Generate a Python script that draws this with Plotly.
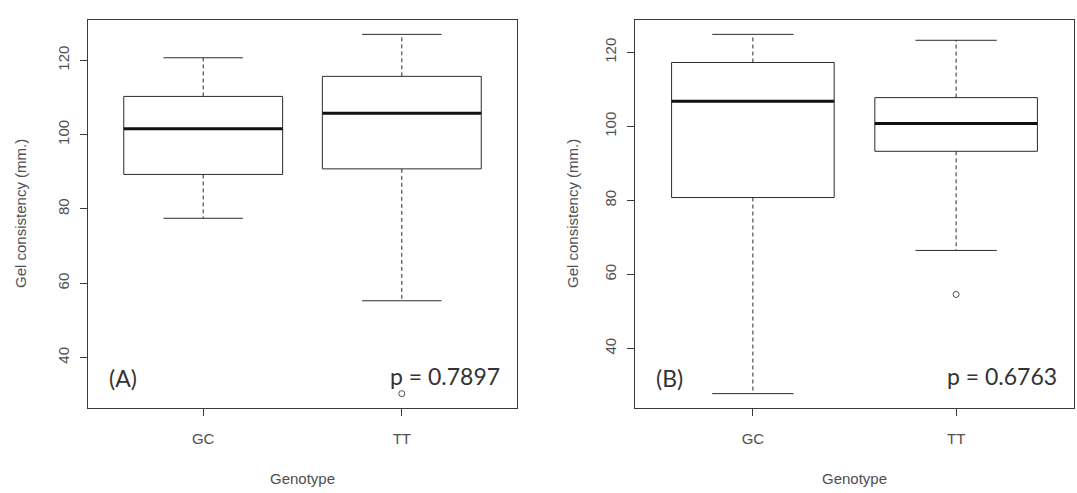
import plotly.graph_objects as go

# Genotype groups on the x axis
genotypes = ["GC", "TT"]

# Panel A: five-number summaries of gel consistency (mm.)
a_lower = [77.5, 55.3]
a_q1 = [89.3, 90.8]
a_median = [101.6, 105.8]
a_q3 = [110.3, 115.7]
a_upper = [120.7, 127.0]
a_outliers = [[], [30.3]]

# Panel B: five-number summaries of gel consistency (mm.)
b_lower = [27.8, 66.5]
b_q1 = [80.8, 93.3]
b_median = [106.8, 100.8]
b_q3 = [117.3, 107.8]
b_upper = [124.9, 123.3]
b_outliers = [[], [54.6]]

y_ticks = [40, 60, 80, 100, 120]
panel_labels = ["(A)", "(B)"]
p_values = ["p = 0.7897", "p = 0.6763"]

INK = "#2b2b2b"
GREY = "#505050"
BOX_HALF = 0.4      # half of boxwex 0.8
CAP_HALF = 0.2      # staplewex 0.5 of the box

panels = [
    dict(lo=a_lower, q1=a_q1, med=a_median, q3=a_q3, hi=a_upper, out=a_outliers),
    dict(lo=b_lower, q1=b_q1, med=b_median, q3=b_q3, hi=b_upper, out=b_outliers),
]

fig = go.Figure()

for p, d in enumerate(panels):
    xa = "x" if p == 0 else "x2"
    ya = "y" if p == 0 else "y2"
    for i, g in enumerate(genotypes):
        c = i + 1
        # box outline
        fig.add_trace(go.Scatter(
            x=[c - BOX_HALF, c + BOX_HALF, c + BOX_HALF, c - BOX_HALF, c - BOX_HALF],
            y=[d["q1"][i], d["q1"][i], d["q3"][i], d["q3"][i], d["q1"][i]],
            mode="lines", line=dict(color=INK, width=1),
            xaxis=xa, yaxis=ya, showlegend=False, hoverinfo="skip"))
        # median bar
        fig.add_trace(go.Scatter(
            x=[c - BOX_HALF, c + BOX_HALF], y=[d["med"][i], d["med"][i]],
            mode="lines", line=dict(color="#111111", width=3),
            xaxis=xa, yaxis=ya, showlegend=False, hoverinfo="skip"))
        # dashed whiskers
        for a, b in ((d["q3"][i], d["hi"][i]), (d["q1"][i], d["lo"][i])):
            fig.add_trace(go.Scatter(
                x=[c, c], y=[a, b], mode="lines",
                line=dict(color=INK, width=1, dash="4px,3px"),
                xaxis=xa, yaxis=ya, showlegend=False, hoverinfo="skip"))
        # staples
        for v in (d["hi"][i], d["lo"][i]):
            fig.add_trace(go.Scatter(
                x=[c - CAP_HALF, c + CAP_HALF], y=[v, v], mode="lines",
                line=dict(color=INK, width=1),
                xaxis=xa, yaxis=ya, showlegend=False, hoverinfo="skip"))
        # outliers
        if d["out"][i]:
            fig.add_trace(go.Scatter(
                x=[c] * len(d["out"][i]), y=d["out"][i], mode="markers",
                marker=dict(symbol="circle-open", size=6, color=GREY,
                            line=dict(width=1, color=GREY)),
                xaxis=xa, yaxis=ya, showlegend=False, hoverinfo="skip"))


def padded(vals):
    lo, hi = min(vals), max(vals)
    ext = 0.04 * (hi - lo)
    return [lo - ext, hi + ext]


W, H = 1077, 493
y_dom = [1 - 408 / H, 1 - 20 / H]
x_doms = [[88 / W, 517 / W], [635 / W, 1074 / W]]

axis_font = dict(family="Liberation Sans, Arial, sans-serif", size=15, color=GREY)
common_x = dict(
    range=[0.42, 2.58], tickmode="array", tickvals=[1, 2], ticktext=genotypes,
    showline=True, mirror=True, linecolor="#3a3a3a", linewidth=1,
    ticks="outside", ticklen=7, tickcolor="#3a3a3a", showgrid=False,
    zeroline=False, tickfont=axis_font, ticklabelstandoff=10)
common_y = dict(
    tickmode="array", tickvals=y_ticks, tickangle=-90,
    showline=True, mirror=True, linecolor="#3a3a3a", linewidth=1,
    ticks="outside", ticklen=7, tickcolor="#3a3a3a", showgrid=False,
    zeroline=False, tickfont=axis_font, ticklabelstandoff=5, domain=y_dom)

rng_a = padded(a_lower + a_upper + [v for o in a_outliers for v in o])
rng_b = padded(b_lower + b_upper + [v for o in b_outliers for v in o])

fig.update_layout(
    width=W, height=H,
    margin=dict(l=0, r=0, t=0, b=0),
    paper_bgcolor="white", plot_bgcolor="white",
    xaxis=dict(common_x, domain=x_doms[0], anchor="y"),
    yaxis=dict(common_y, range=rng_a, anchor="x"),
    xaxis2=dict(common_x, domain=x_doms[1], anchor="y2"),
    yaxis2=dict(common_y, range=rng_b, anchor="x2"),
)

annots = []
label_font = dict(family="Liberation Sans, Arial, sans-serif", size=15, color=GREY)
stat_font = dict(family="Lato, Open Sans, sans-serif", size=23, color="#333333")
for p in range(2):
    x0, x1 = x_doms[p]
    # axis titles
    annots.append(dict(text="Genotype", x=(x0 + x1) / 2, y=1 - 478 / H,
                       xref="paper", yref="paper", showarrow=False,
                       font=label_font, xanchor="center", yanchor="middle"))
    annots.append(dict(text="Gel consistency (mm.)", x=x0 - (67 if p == 0 else 62) / W,
                       y=(y_dom[0] + y_dom[1]) / 2, xref="paper", yref="paper",
                       showarrow=False, textangle=-90, font=label_font,
                       xanchor="center", yanchor="middle"))
    # panel tag and p-value
    annots.append(dict(text=panel_labels[p], x=x0 + 19 / W, y=1 - 378 / H,
                       xref="paper", yref="paper", showarrow=False, font=stat_font,
                       xanchor="left", yanchor="middle"))
    annots.append(dict(text=p_values[p], x=x1 - 15 / W, y=1 - 376 / H,
                       xref="paper", yref="paper", showarrow=False, font=stat_font,
                       xanchor="right", yanchor="middle"))
fig.update_layout(annotations=annots)

fig.write_html("out.html")
